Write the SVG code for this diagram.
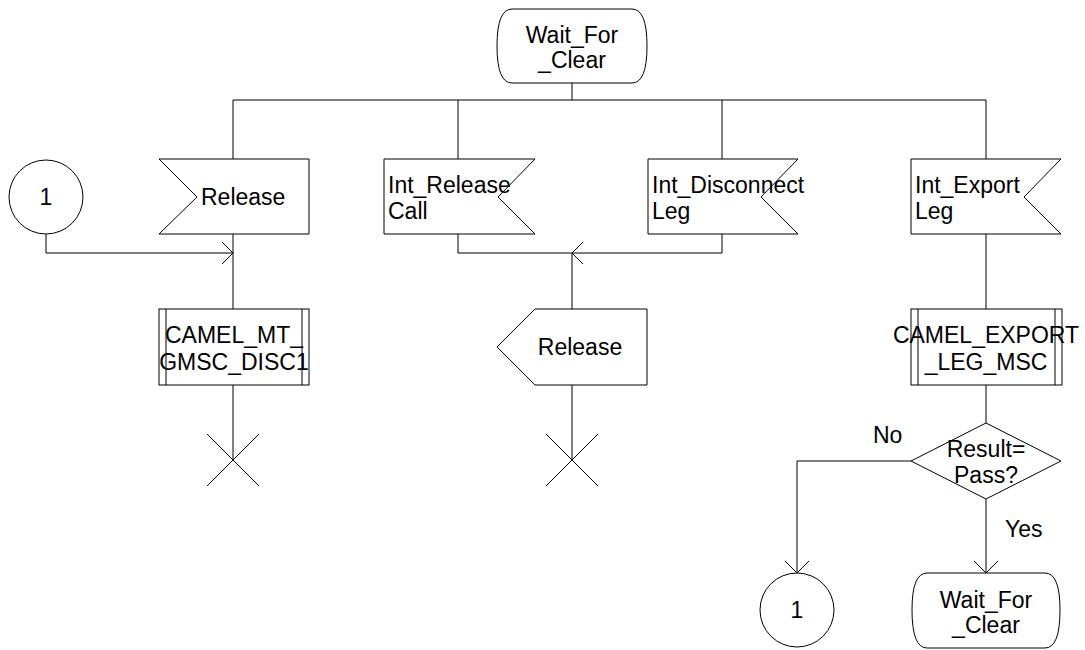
<svg xmlns="http://www.w3.org/2000/svg" width="1085" height="650" viewBox="0 0 1085 650">
<style>
.s{fill:#fff;stroke:#000;stroke-width:1}
.l{fill:none;stroke:#000;stroke-width:1}
text{font-family:"Liberation Sans",Arial,sans-serif;font-size:23px;fill:#000}
.c{text-anchor:middle}
</style>
<rect width="1085" height="650" fill="#fff"/>
<g id="connectors" class="l">
<path d="M572,83 V100 M233,160 V100 H986 V160 M458,100 V160 M722,100 V160"/>
<path d="M233,234 V309 M46,234 V253 H233 M222,242 L233,253 L222,264"/>
<path d="M233,385 V460 M207,434 L259,486 M259,434 L207,486"/>
<path d="M458,234 V253 H722 V234 M572,253 V309 M583,242 L572,253 L583,264"/>
<path d="M572,385 V460 M546,434 L598,486 M598,434 L546,486"/>
<path d="M986,234 V309 M986,385 V423"/>
<path d="M911,461 H797 V573 M785,561 L797,573 L809,561"/>
<path d="M986,499 V573 M974,561 L986,573 L998,561"/>
</g>
<g id="start_state">
<path class="s" d="M512,9 H632 Q647,9 647,46 Q647,83 632,83 H512 Q497,83 497,46 Q497,9 512,9 Z"/>
<text class="c" x="572" y="43">Wait_For</text>
<text class="c" x="572" y="68">_Clear</text>
</g>
<g id="connector_in">
<circle class="s" cx="46" cy="197" r="37"/>
<text class="c" x="46" y="205">1</text>
</g>
<g id="input_release">
<path class="s" d="M159,159 H309 V234 H159 L197,197 Z"/>
<text x="201" y="205">Release</text>
</g>
<g id="input_int_release_call">
<path class="s" d="M384,159 H535 L498,197 L535,234 H384 Z"/>
<text x="388" y="193">Int_Release</text>
<text x="388" y="219">Call</text>
</g>
<g id="input_int_disconnect_leg">
<path class="s" d="M648,159 H798 L761,197 L798,234 H648 Z"/>
<text x="652" y="193">Int_Disconnect</text>
<text x="652" y="219">Leg</text>
</g>
<g id="input_int_export_leg">
<path class="s" d="M911,159 H1061 L1024,197 L1061,234 H911 Z"/>
<text x="915" y="193">Int_Export</text>
<text x="915" y="219">Leg</text>
</g>
<g id="proc_camel_mt">
<rect class="s" x="159" y="309" width="150" height="76"/>
<path class="l" d="M166,309 V385 M302,309 V385"/>
<text class="c" x="234" y="343">CAMEL_MT_</text>
<text class="c" x="234" y="370">GMSC_DISC1</text>
</g>
<g id="output_release">
<path class="s" d="M535,309 H647 V385 H535 L497,347 Z"/>
<text class="c" x="580" y="355">Release</text>
</g>
<g id="proc_camel_export">
<rect class="s" x="911" y="309" width="151" height="76"/>
<path class="l" d="M918,309 V385 M1055,309 V385"/>
<text class="c" x="986" y="343">CAMEL_EXPORT</text>
<text class="c" x="986" y="370">_LEG_MSC</text>
</g>
<g id="decision">
<path class="s" d="M986,423 L1061,461 L986,499 L911,461 Z"/>
<text class="c" x="986" y="457">Result=</text>
<text class="c" x="986" y="483">Pass?</text>
<text x="873" y="443">No</text>
<text x="1005" y="537">Yes</text>
</g>
<g id="connector_out">
<circle class="s" cx="797" cy="610" r="37"/>
<text class="c" x="797" y="618">1</text>
</g>
<g id="end_state">
<path class="s" d="M927,573 H1045 Q1060,573 1060,610 Q1060,648 1045,648 H927 Q912,648 912,610 Q912,573 927,573 Z"/>
<text class="c" x="986" y="608">Wait_For</text>
<text class="c" x="986" y="633">_Clear</text>
</g>
</svg>
